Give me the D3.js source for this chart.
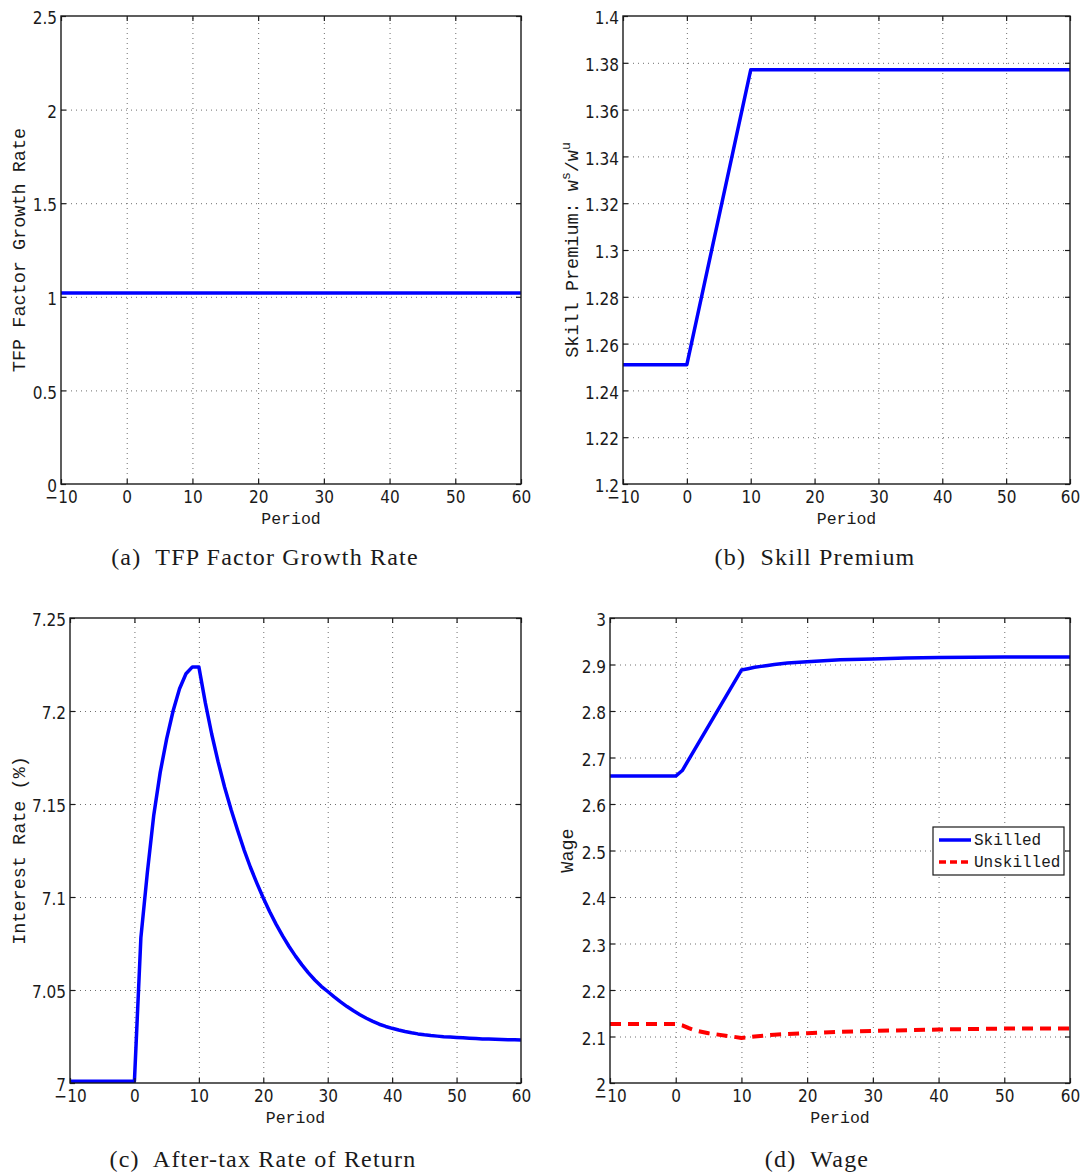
<!DOCTYPE html>
<html><head><meta charset="utf-8">
<script src="https://cdn.jsdelivr.net/npm/d3@7"></script>
<style>
body{margin:0;background:#fff}
svg{display:block}
.tick text{font-family:"Liberation Sans Narrow","DejaVu Sans Condensed","Liberation Sans",sans-serif;font-size:17px;fill:#1a1a1a}
.lbl{font-family:"Liberation Mono",monospace;fill:#1a1a1a}
.cap{font-family:"Liberation Serif",serif;font-size:24px;fill:#1a1a1a;letter-spacing:1.2px;white-space:pre}
</style></head><body>
<svg id="c" width="1082" height="1174"></svg>
<script>
// ---------- data ----------
const xTicks = [-10, 0, 10, 20, 30, 40, 50, 60];

const tfpPeriods = [-10, 60];
const tfpValues = [1.02, 1.02];
const tfpTicks = [0, 0.5, 1, 1.5, 2, 2.5];

const premPeriods = [-10, 0, 10, 60];
const premValues = [1.251, 1.251, 1.377, 1.377];
const premTicks = [1.2, 1.22, 1.24, 1.26, 1.28, 1.3, 1.32, 1.34, 1.36, 1.38, 1.4];

const ratePeriods = [-10, -9, -8, -7, -6, -5, -4, -3, -2, -1, 0,
  1, 2, 3, 4, 5, 6, 7, 8, 9, 10,
  11, 12, 13, 14, 15, 16, 17, 18, 19, 20,
  21, 22, 23, 24, 25, 26, 27, 28, 29, 30,
  31, 32, 33, 34, 35, 36, 37, 38, 39, 40,
  41, 42, 43, 44, 45, 46, 47, 48, 49, 50,
  51, 52, 53, 54, 55, 56, 57, 58, 59, 60];
const rateValues = [7.001, 7.001, 7.001, 7.001, 7.001, 7.001, 7.001, 7.001, 7.001, 7.001, 7.001,
  7.078, 7.113, 7.144, 7.167, 7.185, 7.200, 7.212, 7.220, 7.2237, 7.2237,
  7.2045, 7.1875, 7.1725, 7.159, 7.147, 7.136, 7.1255, 7.116, 7.1075, 7.0995,
  7.0921, 7.0853, 7.0791, 7.0734, 7.0682, 7.0635, 7.0592, 7.0554, 7.0520, 7.0492,
  7.0463, 7.0436, 7.0411, 7.0388, 7.0367, 7.0348, 7.0331, 7.0316, 7.0304, 7.0294,
  7.0285, 7.0277, 7.0270, 7.0264, 7.0259, 7.0255, 7.0252, 7.0249, 7.0247, 7.0245,
  7.0243, 7.0241, 7.0239, 7.0237, 7.0236, 7.0235, 7.0234, 7.0233, 7.0232, 7.0231];
const rateTicks = [7, 7.05, 7.1, 7.15, 7.2, 7.25];

const skilledPeriods = [-10, 0, 1, 10, 11, 12, 13, 14, 15, 17, 20, 25, 30, 35, 40, 50, 60];
const skilledValues = [2.66, 2.66, 2.672, 2.888, 2.891, 2.894, 2.896, 2.898, 2.900, 2.903, 2.906, 2.910, 2.912, 2.914, 2.915, 2.916, 2.916];
const unskilledPeriods = [-10, 0, 1, 2, 3, 5, 8, 10, 12, 15, 20, 25, 30, 40, 50, 60];
const unskilledValues = [2.127, 2.127, 2.124, 2.118, 2.113, 2.107, 2.101, 2.097, 2.100, 2.104, 2.107, 2.110, 2.112, 2.115, 2.117, 2.117];
const wageTicks = [2, 2.1, 2.2, 2.3, 2.4, 2.5, 2.6, 2.7, 2.8, 2.9, 3];
const wageLegend = ["Skilled", "Unskilled"];

const captions = ["(a)  TFP Factor Growth Rate", "(b)  Skill Premium", "(c)  After-tax Rate of Return", "(d)  Wage"];

// ---------- drawing ----------
const svg = d3.select("#c");
const fmtX = d => d < 0 ? "\u2212" + Math.abs(d) : String(d);
const fmtY = d => String(+d.toFixed(3));

function panel(o) {
  const x = d3.scaleLinear().domain([-10, 60]).range([o.left, o.right]);
  const y = d3.scaleLinear().domain([o.yTicks[0], o.yTicks[o.yTicks.length - 1]]).range([o.bottom, o.top]);
  const g = svg.append("g");
  const w = o.right - o.left, h = o.bottom - o.top;

  // grid
  const innerX = xTicks.slice(1, -1), innerY = o.yTicks.slice(1, -1);
  const gx = g.append("g").attr("transform", `translate(0,${o.bottom})`)
    .call(d3.axisBottom(x).tickValues(innerX).tickSize(-h).tickFormat(""));
  const gy = g.append("g").attr("transform", `translate(${o.left},0)`)
    .call(d3.axisLeft(y).tickValues(innerY).tickSize(-w).tickFormat(""));
  [gx, gy].forEach(s => {
    s.select(".domain").remove();
    s.selectAll("line").attr("stroke", "#6e6e6e").attr("stroke-width", 1).attr("stroke-dasharray", "1,4");
  });

  // series
  o.series.forEach(s => {
    const line = d3.line().x((d, i) => x(s.x[i])).y(d => y(d));
    g.append("path").datum(s.y).attr("d", line).attr("fill", "none")
      .attr("stroke", s.color).attr("stroke-width", s.width)
      .attr("stroke-dasharray", s.dash || null).attr("stroke-linejoin", "round");
  });

  // axes with inward ticks
  const ax = (gen, tx, ty) => {
    const a = g.append("g").attr("transform", `translate(${tx},${ty})`).call(gen);
    a.select(".domain").remove();
    a.selectAll(".tick line").attr("stroke", "#1a1a1a").attr("stroke-width", 1.2);
    return a;
  };
  const b = ax(d3.axisBottom(x).tickValues(xTicks).tickSizeInner(-5).tickSizeOuter(0).tickPadding(7).tickFormat(fmtX), 0, o.bottom);
  b.selectAll("text").attr("dy", "0.72em");
  ax(d3.axisTop(x).tickValues(xTicks).tickSizeInner(-5).tickSizeOuter(0).tickFormat(""), 0, o.top);
  const l = ax(d3.axisLeft(y).tickValues(o.yTicks).tickSizeInner(-5).tickSizeOuter(0).tickPadding(4).tickFormat(fmtY), o.left, 0);
  l.selectAll("text").attr("dy", "0.45em");
  ax(d3.axisRight(y).tickValues(o.yTicks).tickSizeInner(-5).tickSizeOuter(0).tickFormat(""), o.right, 0);

  g.append("rect").attr("x", o.left).attr("y", o.top).attr("width", w).attr("height", h)
    .attr("fill", "none").attr("stroke", "#1a1a1a").attr("stroke-width", 1.4);

  // labels
  g.append("text").attr("class", "lbl").attr("x", (o.left + o.right) / 2).attr("y", o.bottom + 40)
    .attr("text-anchor", "middle").style("font-size", "16.5px").text("Period");
  const yl = g.append("text").attr("class", "lbl")
    .attr("transform", `translate(${o.ylabelX},${(o.top + o.bottom) / 2}) rotate(-90)`)
    .attr("text-anchor", "middle").style("font-size", "18.5px");
  if (o.ylabelParts) {
    o.ylabelParts.forEach(p => {
      yl.append("tspan").attr("dy", p.dy || 0).style("font-size", p.size || null).text(p.t);
    });
  } else yl.text(o.ylabel);

  g.append("text").attr("class", "cap").attr("x", o.capX).attr("y", o.capY)
    .attr("text-anchor", "middle").text(o.caption);
  return {g, x, y};
}

panel({left: 61, right: 521, top: 16, bottom: 484, yTicks: tfpTicks,
  series: [{x: tfpPeriods, y: tfpValues, color: "#0000ff", width: 3.5}],
  ylabel: "TFP Factor Growth Rate", ylabelX: 25, caption: captions[0], capX: 265, capY: 565});

panel({left: 623, right: 1070, top: 16, bottom: 484, yTicks: premTicks,
  series: [{x: premPeriods, y: premValues, color: "#0000ff", width: 3.5}],
  ylabelParts: [{t: "Skill Premium: w"}, {t: "s", dy: -8, size: "13px"}, {t: "/w", dy: 8}, {t: "u", dy: -8, size: "13px"}],
  ylabelX: 578, caption: captions[1], capX: 815, capY: 565});

panel({left: 70, right: 521, top: 618, bottom: 1083, yTicks: rateTicks,
  series: [{x: ratePeriods, y: rateValues, color: "#0000ff", width: 3.5}],
  ylabel: "Interest Rate (%)", ylabelX: 25, caption: captions[2], capX: 263, capY: 1167});

const pd = panel({left: 610, right: 1070, top: 618, bottom: 1083, yTicks: wageTicks,
  series: [{x: skilledPeriods, y: skilledValues, color: "#0000ff", width: 3.5},
           {x: unskilledPeriods, y: unskilledValues, color: "#ff0000", width: 4, dash: "11,7"}],
  ylabel: "Wage", ylabelX: 573, caption: captions[3], capX: 817, capY: 1167});

// legend
const lg = pd.g.append("g");
lg.append("rect").attr("x", 933).attr("y", 827).attr("width", 131).attr("height", 48)
  .attr("fill", "#fff").attr("stroke", "#1a1a1a").attr("stroke-width", 1.2);
const legendStyles = [{color: "#0000ff", dash: null}, {color: "#ff0000", dash: "7,4"}];
wageLegend.forEach((name, i) => {
  const yy = 840 + i * 22;
  lg.append("line").attr("x1", 939).attr("x2", 971).attr("y1", yy).attr("y2", yy)
    .attr("stroke", legendStyles[i].color).attr("stroke-width", 3.5)
    .attr("stroke-dasharray", legendStyles[i].dash);
  lg.append("text").attr("class", "lbl").attr("x", 974).attr("y", yy + 5)
    .style("font-size", "16px").text(name);
});
</script>
</body></html>
